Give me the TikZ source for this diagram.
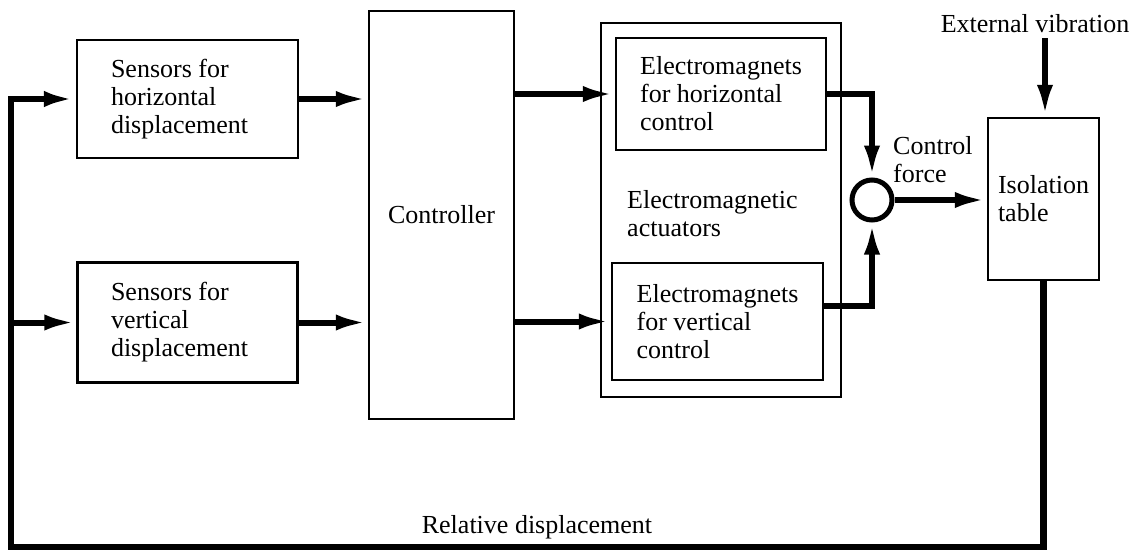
\documentclass[tikz,border=0pt]{standalone}
\usepackage{fontspec}
\setmainfont{Liberation Serif}
\usetikzlibrary{positioning,arrows.meta}

\tikzset{
  block/.style={draw,line width=2.5pt,align=left},
  sig/.style={line width=6pt,-{Latex[length=32pt,width=16pt]}},
}

\begin{document}
\begin{tikzpicture}[x=1pt,y=-1pt,font=\fontsize{26}{28}\selectfont]
\useasboundingbox (0,0) rectangle (1138,554);
\node[block,align=flush left,text width=153pt,minimum width=221pt,minimum height=118pt] (sensH) at (187.5,99) {
Sensors for\\horizontal\\displacement
};
\node[below =102pt of sensH,block,align=flush left,text width=153pt,minimum width=220pt,minimum height=120pt] (sensV) {
Sensors for\\vertical\\displacement
};
\node[block,minimum width=145pt,minimum height=408pt] (ctrl) at (441.5,215) {Controller};
\node[block,minimum width=240pt,minimum height=374pt] (act) at (721,210) {};
\node[block,minimum width=210pt,minimum height=112pt] (emH) at (721,94) {
Electromagnets\\for horizontal\\control
};
\node[block,minimum width=211pt,minimum height=117pt] (emV) at (717.5,321.5) {
Electromagnets\\for vertical\\control
};
\node[align=left,anchor=west,inner sep=0pt] (actlabel) at (627,214) {
Electromagnetic\\actuators
};
\node[draw,circle,line width=5pt,minimum size=40pt,inner sep=0pt] (sum) at (872,200) {};
\node[align=left,anchor=west,inner sep=0pt] (forcelabel) at (893,160) {
Control\\force
};
\node[block,minimum width=111pt,minimum height=162pt] (iso) at (1043.5,199) {
Isolation\\table
};
\node[anchor=base,inner sep=0pt] (ext) at (1035,32) {External vibration};
\node[anchor=base,inner sep=0pt] (rellabel) at (537,533) {Relative displacement};
\coordinate (corner) at (11,547);
\coordinate (extstart) at (1045,38);
\draw[sig] (sensH.east) -- (sensH.east -| ctrl.west);
\draw[sig] (sensV.east) -- (sensV.east -| ctrl.west);
\draw[sig] (ctrl.east |- emH.west) -- (emH.west);
\draw[sig] (ctrl.east |- emV.west) -- (emV.west);
\draw[sig] (emH.east) -| (sum.north);
\draw[sig] ([yshift=16pt]emV.east) -| (sum.south);
\draw[sig] (sum.east) -- (sum.east -| iso.west);
\draw[sig] (extstart) -- (extstart |- iso.north);
\draw[sig,line width=6.5pt] (iso.south) |- (corner) |- (sensH.west);
\draw[sig] (corner |- sensV.west) -- (sensV.west);
\end{tikzpicture}
\end{document}
